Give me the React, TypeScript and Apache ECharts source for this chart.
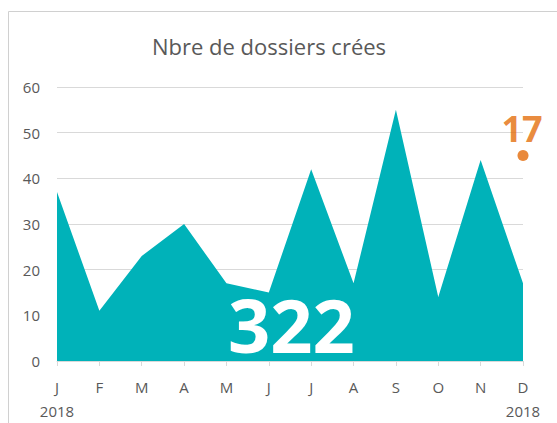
import React, { useEffect, useRef } from "react";
import * as echarts from "echarts";

const months = ["J", "F", "M", "A", "M", "J", "J", "A", "S", "O", "N", "D"];
const year = "2018";
const dossiers = [37, 11, 23, 30, 17, 15, 42, 17, 55, 14, 44, 17];
const yTicks = { min: 0, max: 60, interval: 10 };
const annotationLevel = 45;

const total = dossiers.reduce((a, b) => a + b, 0);
const last = dossiers[dossiers.length - 1];

export default function App() {
  const ref = useRef<HTMLDivElement>(null);
  useEffect(() => {
    const chart = echarts.init(ref.current!, null, { renderer: "svg" });
    const font = "'Open Sans', sans-serif";
    chart.setOption({
      animation: false,
      backgroundColor: "#ffffff",
      title: {
        text: "Nbre de dossiers crées",
        left: 147,
        top: 30,
        textStyle: { fontFamily: font, fontSize: 22, fontWeight: "normal", color: "#595959" },
      },
      grid: { left: 57, right: 34, top: 87, bottom: 61 },
      xAxis: {
        type: "category",
        data: months,
        boundaryGap: false,
        axisLine: { lineStyle: { color: "#d9d9d9", width: 1 } },
        axisTick: { show: true, alignWithLabel: true, length: 5, lineStyle: { color: "#d9d9d9" } },
        axisLabel: {
          color: "#595959",
          fontFamily: font,
          fontSize: 15,
          margin: 14,
          lineHeight: 24,
          interval: 0,
          formatter: (v: string, i: number) =>
            i === 0 || i === months.length - 1 ? v + "\n" + year : v,
        },
      },
      yAxis: {
        type: "value",
        min: yTicks.min,
        max: yTicks.max,
        interval: yTicks.interval,
        axisLine: { show: false },
        axisTick: { show: false },
        axisLabel: { color: "#595959", fontFamily: font, fontSize: 15, margin: 17 },
        splitLine: { lineStyle: { color: "#d9d9d9", width: 1 } },
      },
      graphic: [
        {
          type: "rect",
          shape: { x: 8.5, y: 11.5, width: 700, height: 600 },
          style: { fill: "none", stroke: "#d0d0d0", lineWidth: 1 },
          silent: true,
          z: -10,
        },
        {
          type: "text",
          left: 228,
          top: 287,
          z: 100,
          style: {
            text: String(total),
            fill: "#ffffff",
            font: "bold 74px 'Open Sans', sans-serif",
          },
        },
      ],
      series: [
        {
          type: "line",
          data: dossiers,
          symbol: "none",
          lineStyle: { width: 0, color: "#00b2b9" },
          areaStyle: { color: "#00b2b9", opacity: 1 },
          itemStyle: { color: "#00b2b9" },
        },
        {
          type: "scatter",
          data: [[months.length - 1, annotationLevel]],
          symbol: "circle",
          symbolSize: 11,
          itemStyle: { color: "#e46c0a" },
          label: {
            show: true,
            position: "top",
            distance: 2,
            formatter: () => String(last),
            color: "#e46c0a",
            fontFamily: font,
            fontWeight: "bold",
            fontSize: 36,
            offset: [-1, -2],
          },
          z: 10,
        },
      ],
    });
    return () => chart.dispose();
  }, []);
  return (
    <div
      ref={ref}
      style={{ position: "fixed", left: 0, top: 0, width: 557, height: 423 }}
    />
  );
}
